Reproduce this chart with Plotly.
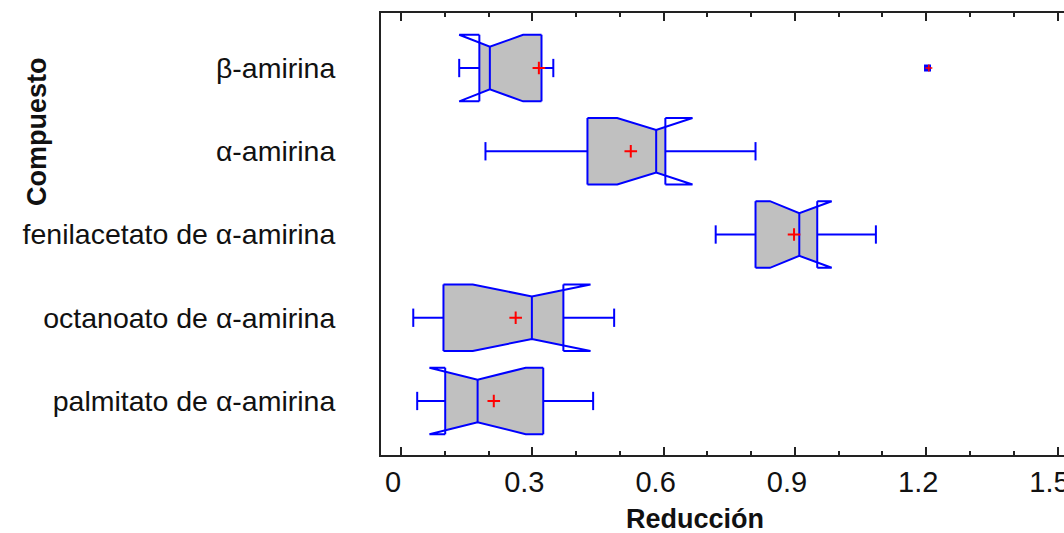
import plotly.graph_objects as go

# Compuestos (de abajo hacia arriba) y estadísticos del diagrama de caja con muesca
compuestos = [
    "palmitato de α-amirina",
    "octanoato de α-amirina",
    "fenilacetato de α-amirina",
    "α-amirina",
    "β-amirina",
]
bigote_min = [0.037, 0.028, 0.719, 0.193, 0.133]
q1 = [0.101, 0.097, 0.810, 0.426, 0.179]
muesca_inf = [0.065, 0.164, 0.843, 0.494, 0.133]
mediana = [0.175, 0.299, 0.910, 0.583, 0.203]
muesca_sup = [0.285, 0.433, 0.984, 0.666, 0.279]
q3 = [0.325, 0.371, 0.951, 0.604, 0.321]
bigote_max = [0.439, 0.487, 1.085, 0.810, 0.348]
media = [0.212, 0.262, 0.898, 0.525, 0.315]

atipico_compuesto = ["β-amirina"]
atipico_valor = [1.203]

marcas_x = [0, 0.3, 0.6, 0.9, 1.2, 1.5]

AZUL = "#0000FF"
GRIS = "#C0C0C0"
ROJO = "#FF0000"
H = 0.40      # media altura de la caja
HN = 0.255    # media altura en la muesca
HC = 0.11     # media altura de los topes de bigote


def borde_sup(x, nl, md, nh, c):
    """Altura del borde superior de la caja con muesca en la posición x."""
    if x <= nl:
        return c + H
    if x <= md:
        return c + H + (HN - H) * (x - nl) / (md - nl)
    if x < nh:
        return c + HN + (H - HN) * (x - md) / (nh - md)
    return c + H


fig = go.Figure()

for i, nombre in enumerate(compuestos):
    c = i
    a, nl, md, nh, b = q1[i], muesca_inf[i], mediana[i], muesca_sup[i], q3[i]

    # relleno gris limitado al rango intercuartílico
    xs = [a] + [v for v in (nl, md, nh) if a < v < b] + [b]
    ys_top = [borde_sup(v, nl, md, nh, c) for v in xs]
    ys_bot = [2 * c - y for y in ys_top]
    fig.add_trace(go.Scatter(
        x=xs + xs[::-1], y=ys_top + ys_bot[::-1],
        fill="toself", fillcolor=GRIS, mode="none",
        hoverinfo="skip", showlegend=False,
    ))

    # contorno: bordes con muesca, lados de la caja y bigotes
    nan = None
    ox = [a, nl, md, nh, b, nan,
          a, nl, md, nh, b, nan,
          a, a, nan, b, b, nan,
          md, md, nan,
          bigote_min[i], a, nan, b, bigote_max[i], nan,
          bigote_min[i], bigote_min[i], nan, bigote_max[i], bigote_max[i]]
    oy = [c + H, c + H, c + HN, c + H, c + H, nan,
          c - H, c - H, c - HN, c - H, c - H, nan,
          c - H, c + H, nan, c - H, c + H, nan,
          c - HN, c + HN, nan,
          c, c, nan, c, c, nan,
          c - HC, c + HC, nan, c - HC, c + HC]
    fig.add_trace(go.Scatter(
        x=ox, y=oy, mode="lines",
        line=dict(color=AZUL, width=2),
        connectgaps=False, hoverinfo="skip", showlegend=False,
    ))

# medias
fig.add_trace(go.Scatter(
    x=media, y=list(range(len(compuestos))), mode="markers",
    marker=dict(symbol="cross-thin", size=9, line=dict(color=ROJO, width=2)),
    showlegend=False,
))

# valores atípicos
y_atip = [compuestos.index(n) for n in atipico_compuesto]
fig.add_trace(go.Scatter(
    x=atipico_valor, y=y_atip, mode="markers",
    marker=dict(symbol="square", size=7, color=AZUL),
    showlegend=False,
))
fig.add_trace(go.Scatter(
    x=[v + 0.003 for v in atipico_valor], y=y_atip, mode="markers",
    marker=dict(symbol="cross-thin", size=5, line=dict(color=ROJO, width=1.5)),
    showlegend=False,
))

fig.update_layout(
    width=1064, height=533,
    margin=dict(l=381, r=0, t=13, b=78, autoexpand=False),
    paper_bgcolor="white", plot_bgcolor="white",
    font=dict(family="Liberation Sans, Arial, sans-serif", color="#111"),
    xaxis=dict(
        range=[-0.0457, 1.5148],
        tickvals=marcas_x,
        ticktext=[f"{v:g}" for v in marcas_x],
        ticks="inside", ticklen=8, tickwidth=2, tickcolor="#222",
        minor=dict(dtick=0.1, tick0=0, ticks="inside", ticklen=4,
                   tickwidth=2, tickcolor="#222", showgrid=False),
        showline=True, linecolor="#222", linewidth=2, mirror="ticks",
        showgrid=False, zeroline=False, automargin=False,
        tickfont=dict(size=29, color="#111"),
        ticklabelshift=-8, ticklabelstandoff=0,
        ticklabeloverflow="allow",
    ),
    yaxis=dict(
        range=[-0.649, 4.661],
        tickvals=list(range(len(compuestos))),
        ticktext=compuestos,
        ticks="", showline=True, linecolor="#222", linewidth=2,
        mirror=False, showgrid=False, zeroline=False, automargin=False,
        tickfont=dict(size=28.5, color="#111"),
        ticklabelstandoff=38,
    ),
    annotations=[
        dict(text="<b>Reducción</b>", xref="paper", yref="paper",
             x=(695 - 381) / 683, y=-(519 - 455) / 442,
             xanchor="center", yanchor="middle", showarrow=False,
             font=dict(size=27, color="#111")),
        dict(text="<b>Compuesto</b>", xref="paper", yref="paper",
             x=-(381 - 37) / 683, y=1 - (132 - 13) / 442,
             xanchor="center", yanchor="middle", textangle=-90,
             showarrow=False, font=dict(size=27, color="#111")),
    ],
)

fig.write_html("out.html")
